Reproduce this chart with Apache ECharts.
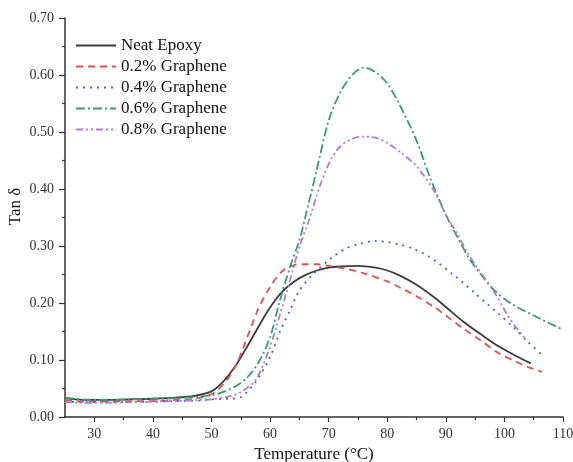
<!DOCTYPE html>
<html>
<head>
<meta charset="utf-8">
<script src="https://cdn.jsdelivr.net/npm/echarts@6/dist/echarts.min.js"></script>
<style>
  html, body { margin: 0; padding: 0; background: #fff; }
  #main { width: 573px; height: 462px; }
</style>
</head>
<body>
<div id="main"></div>
<script>
// tick values
var xMajorTicks = [30, 40, 50, 60, 70, 80, 90, 100, 110];
var xMinorTicks = [35, 45, 55, 65, 75, 85, 95, 105];

// Neat Epoxy
var neatX = [25, 28, 32, 36, 40, 44, 47, 50, 52, 54, 56, 58, 60, 62, 64, 66, 68, 70, 72, 75, 78, 80, 82, 85, 88, 90, 93, 96, 99, 102, 104.5];
var neatY = [0.033, 0.030, 0.030, 0.031, 0.032, 0.034, 0.037, 0.045, 0.062, 0.088, 0.122, 0.158, 0.192, 0.219, 0.237, 0.249, 0.257, 0.262, 0.264, 0.265, 0.262, 0.257, 0.249, 0.232, 0.210, 0.193, 0.167, 0.145, 0.124, 0.107, 0.094];

// 0.2% Graphene
var g02X = [25, 28, 32, 36, 40, 44, 47, 50, 52, 54, 56, 58, 60, 62, 64, 66, 68, 70, 73, 76, 80, 82, 85, 88, 90, 93, 96, 99, 102, 104, 106.4];
var g02Y = [0.030, 0.027, 0.027, 0.028, 0.028, 0.030, 0.032, 0.040, 0.057, 0.087, 0.137, 0.190, 0.228, 0.255, 0.266, 0.268, 0.268, 0.265, 0.260, 0.252, 0.238, 0.228, 0.212, 0.193, 0.178, 0.155, 0.134, 0.112, 0.097, 0.088, 0.079];

// 0.4% Graphene
var g04X = [25, 28, 32, 36, 40, 44, 48, 50, 53, 55, 57.5, 60, 61.7, 63.4, 65, 67.5, 70, 71, 73, 75, 78, 80, 82, 84.5, 87, 89, 91, 93, 95, 97, 99, 101.5, 104, 106.7];
var g04Y = [0.027, 0.026, 0.026, 0.026, 0.027, 0.028, 0.029, 0.031, 0.032, 0.035, 0.061, 0.105, 0.150, 0.187, 0.222, 0.252, 0.275, 0.283, 0.296, 0.303, 0.309, 0.307, 0.303, 0.295, 0.282, 0.268, 0.252, 0.235, 0.217, 0.199, 0.181, 0.158, 0.132, 0.106];

// 0.6% Graphene
var g06X = [25, 28, 32, 36, 40, 44, 48, 50, 52, 54, 56, 58, 60, 61.7, 63.4, 65, 66, 68, 70, 72, 74, 76, 78, 80, 82, 85, 87.3, 90, 92, 94, 96, 98, 101, 105, 109.8];
var g06Y = [0.034, 0.031, 0.030, 0.031, 0.032, 0.033, 0.036, 0.038, 0.044, 0.053, 0.068, 0.095, 0.140, 0.205, 0.263, 0.310, 0.350, 0.435, 0.520, 0.570, 0.600, 0.613, 0.605, 0.585, 0.550, 0.485, 0.420, 0.355, 0.315, 0.278, 0.250, 0.225, 0.200, 0.178, 0.154];

// 0.8% Graphene
var g08X = [25, 28, 32, 36, 40, 44, 48, 50, 53, 55, 57.5, 60, 61.7, 63.4, 65, 66.8, 68.5, 70.3, 72, 74, 76, 78, 80, 82.2, 85, 87.9, 90, 91.9, 93.5, 95.3, 98.1, 100.4, 101.9, 103.4];
var g08Y = [0.026, 0.025, 0.025, 0.026, 0.027, 0.028, 0.030, 0.031, 0.036, 0.044, 0.064, 0.123, 0.180, 0.240, 0.298, 0.350, 0.405, 0.450, 0.475, 0.488, 0.492, 0.490, 0.481, 0.465, 0.440, 0.398, 0.355, 0.322, 0.292, 0.263, 0.222, 0.181, 0.158, 0.140];

function zip(xs, ys) {
    return xs.map(function (x, i) { return [x, ys[i]]; });
}

var font = '"Liberation Serif", "Times New Roman", serif';

function line(name, xs, ys, color, type) {
    return {
        name: name,
        type: 'line',
        data: zip(xs, ys),
        smooth: 0.3,
        symbol: 'none',
        lineStyle: { color: color, width: 1.8, type: type },
        itemStyle: { color: color }
    };
}

var myChart = echarts.init(document.getElementById('main'));
myChart.setOption({
    backgroundColor: '#fff',
    animation: false,
    textStyle: { fontFamily: font },
    grid: { left: 65, right: 10, top: 18, bottom: 45, outerBoundsMode: 'none' },
    legend: {
        orient: 'vertical',
        left: 70,
        top: 32,
        itemWidth: 40,
        itemHeight: 14,
        itemGap: 4,
        itemStyle: { opacity: 0 },
        textStyle: { fontFamily: font, fontSize: 17, color: '#111', lineHeight: 17 },
        data: ['Neat Epoxy', '0.2% Graphene', '0.4% Graphene', '0.6% Graphene', '0.8% Graphene']
    },
    xAxis: [{
        type: 'value',
        min: 25,
        max: 110,
        name: 'Temperature (°C)',
        nameLocation: 'middle',
        nameGap: 28,
        nameTextStyle: { fontFamily: font, fontSize: 17, color: '#111' },
        axisLine: { lineStyle: { color: '#333', width: 1.5 } },
        axisTick: { customValues: xMajorTicks, length: 5, lineStyle: { color: '#333', width: 1.2 } },
        axisLabel: { customValues: xMajorTicks, fontFamily: font, fontSize: 14, color: '#333', margin: 10 },
        splitLine: { show: false }
    }, {
        type: 'value',
        min: 25,
        max: 110,
        position: 'bottom',
        axisLine: { show: false },
        axisTick: { customValues: xMinorTicks, length: 3, lineStyle: { color: '#333', width: 1.2 } },
        axisLabel: { show: false },
        splitLine: { show: false }
    }],
    yAxis: {
        type: 'value',
        min: 0,
        max: 0.7,
        interval: 0.1,
        name: 'Tan δ',
        nameLocation: 'middle',
        nameGap: 41,
        nameMoveOverlap: false,
        nameTextStyle: { fontFamily: font, fontSize: 17, color: '#111', padding: [0, 0, 0, 22] },
        axisLine: { show: true, lineStyle: { color: '#333', width: 1.5 } },
        axisTick: { length: 6, lineStyle: { color: '#333', width: 1.2 } },
        minorTick: { show: true, splitNumber: 2, length: 3, lineStyle: { color: '#333', width: 1.2 } },
        axisLabel: {
            fontFamily: font, fontSize: 14, color: '#333', margin: 11,
            formatter: function (v) { return v.toFixed(2); }
        },
        splitLine: { show: false }
    },
    series: [
        line('Neat Epoxy', neatX, neatY, '#3c3c3c', 'solid'),
        line('0.2% Graphene', g02X, g02Y, '#e0504c', [7, 5]),
        line('0.4% Graphene', g04X, g04Y, '#3f6cc2', [2, 5]),
        line('0.6% Graphene', g06X, g06Y, '#3a9a70', [9, 3, 2, 3]),
        line('0.8% Graphene', g08X, g08Y, '#b07cd4', [7, 3, 2, 3, 2, 3])
    ]
});
</script>
</body>
</html>
